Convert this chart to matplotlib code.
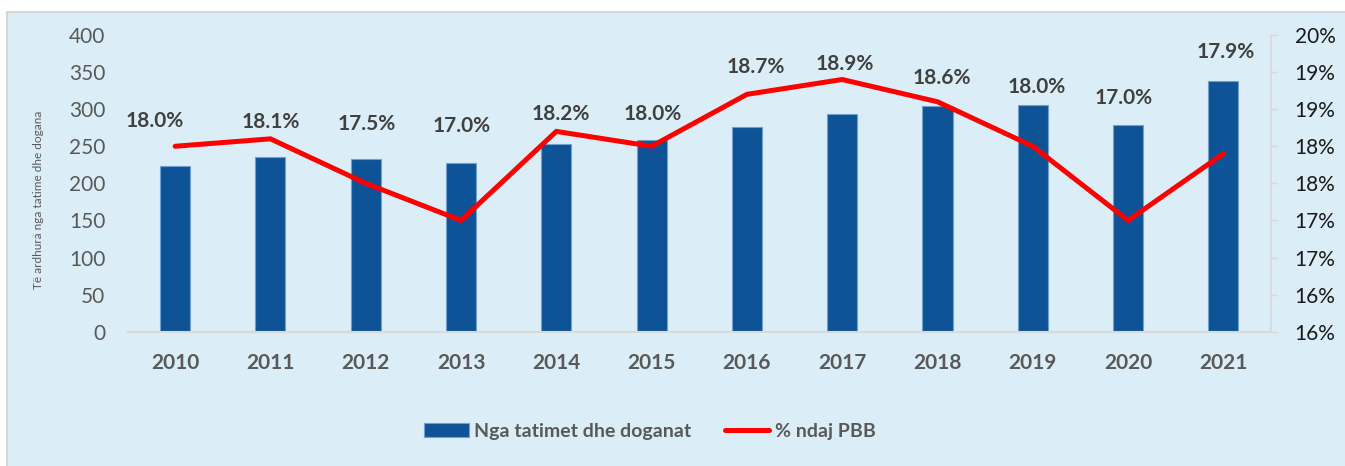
import numpy as np
import matplotlib
matplotlib.use('Agg')
import matplotlib.pyplot as plt
from matplotlib.patches import Rectangle
from matplotlib.ticker import FuncFormatter

# DATA
years = ['2010', '2011', '2012', '2013', '2014', '2015',
         '2016', '2017', '2018', '2019', '2020', '2021']
revenue = [223, 235, 233, 228, 253, 259, 276, 294, 304, 305, 278, 338]
pct_gdp = [18.0, 18.1, 17.5, 17.0, 18.2, 18.0, 18.7, 18.9, 18.6, 18.0, 17.0, 17.9]

bar_name = 'Nga tatimet dhe doganat'
line_name = '% ndaj PBB'
ylabel = 'Të ardhura nga tatime dhe dogana'

# label offsets (pixels) from each line point
label_dx = [-20, 0, 1, 1, 4, 1, 9, 3, 4, 4, -4, 2]
label_dy = [25, 17, 59, 94, 17, 32, 27, 16, 24, 59, 122, 102]

plt.rcParams['font.family'] = ['Lato', 'DejaVu Sans']

bg = '#DBEEF8'
blue = '#0E5396'
red = '#FF0000'
grey = '#595959'

fig = plt.figure(figsize=(13.45, 4.66), dpi=100)
fig.patch.set_facecolor('white')
# chart panel
fig.patches.append(Rectangle((7 / 1345, -0.01), 1.0, 1.01 - 12 / 466,
                             transform=fig.transFigure, facecolor=bg,
                             edgecolor='#D0D0D0', linewidth=1.2, zorder=-10))

ax = fig.add_axes([0.0948, 0.2882, 0.945 - 0.0948, 0.9249 - 0.2882])
ax.set_facecolor('none')
x = np.arange(len(years))
bars = ax.bar(x, revenue, width=0.315, color=blue, edgecolor='#6FA0D0',
              linewidth=0.8, label=bar_name, zorder=2)
ax.set_xlim(-0.5, len(years) - 0.5)
ax.set_ylim(0, 400)
ax.set_yticks(np.arange(0, 401, 50))
ax.set_xticks(x)
ax.set_xticklabels(years, fontsize=15, fontweight='bold', color=grey)
ax.tick_params(axis='y', length=0, labelsize=15, labelcolor=grey, pad=16)
ax.tick_params(axis='x', length=0, pad=15)
for s in ['top', 'left', 'right']:
    ax.spines[s].set_visible(False)
ax.spines['bottom'].set_color('#D9D9D9')
ax.spines['bottom'].set_linewidth(1.5)
ax.set_ylabel(ylabel, fontsize=8.5, color=grey)
ax.yaxis.set_label_coords(-0.073, 0.444)

ax2 = ax.twinx()
ax2.set_facecolor('none')
line, = ax2.plot(x, pct_gdp, color=red, linewidth=3.6, solid_capstyle='round',
                 solid_joinstyle='miter', label=line_name, zorder=3)
ax2.set_ylim(15.5, 19.5)
ax2.set_yticks(np.arange(15.5, 19.51, 0.5))
ax2.yaxis.set_major_formatter(FuncFormatter(lambda v, p: '%d%%' % int(np.floor(v + 0.5 + 1e-9))))
ax2.tick_params(axis='y', length=5, width=1, color='#D9D9D9', labelsize=15,
                labelcolor='#1a1a1a', pad=12)
for s in ['top', 'left', 'bottom']:
    ax2.spines[s].set_visible(False)
ax2.spines['right'].set_color('#D9D9D9')
ax2.spines['right'].set_linewidth(1.2)

for i, v in enumerate(pct_gdp):
    ax2.annotate('%.1f%%' % v, (x[i], v), xytext=(label_dx[i], label_dy[i]),
                 textcoords='offset pixels', ha='center', va='center',
                 fontsize=15, fontweight='bold', color='#404040')

leg = fig.legend([bars, line], [bar_name, line_name], loc='center',
                 bbox_to_anchor=(650 / 1345, 1 - 431 / 466), ncol=2, frameon=False,
                 handlelength=2.3, handleheight=0.75, handletextpad=0.3,
                 columnspacing=1.7, prop={'size': 14, 'weight': 'bold'})
for t in leg.get_texts():
    t.set_color(grey)

fig.savefig('out.png', dpi=100, facecolor=fig.get_facecolor())
